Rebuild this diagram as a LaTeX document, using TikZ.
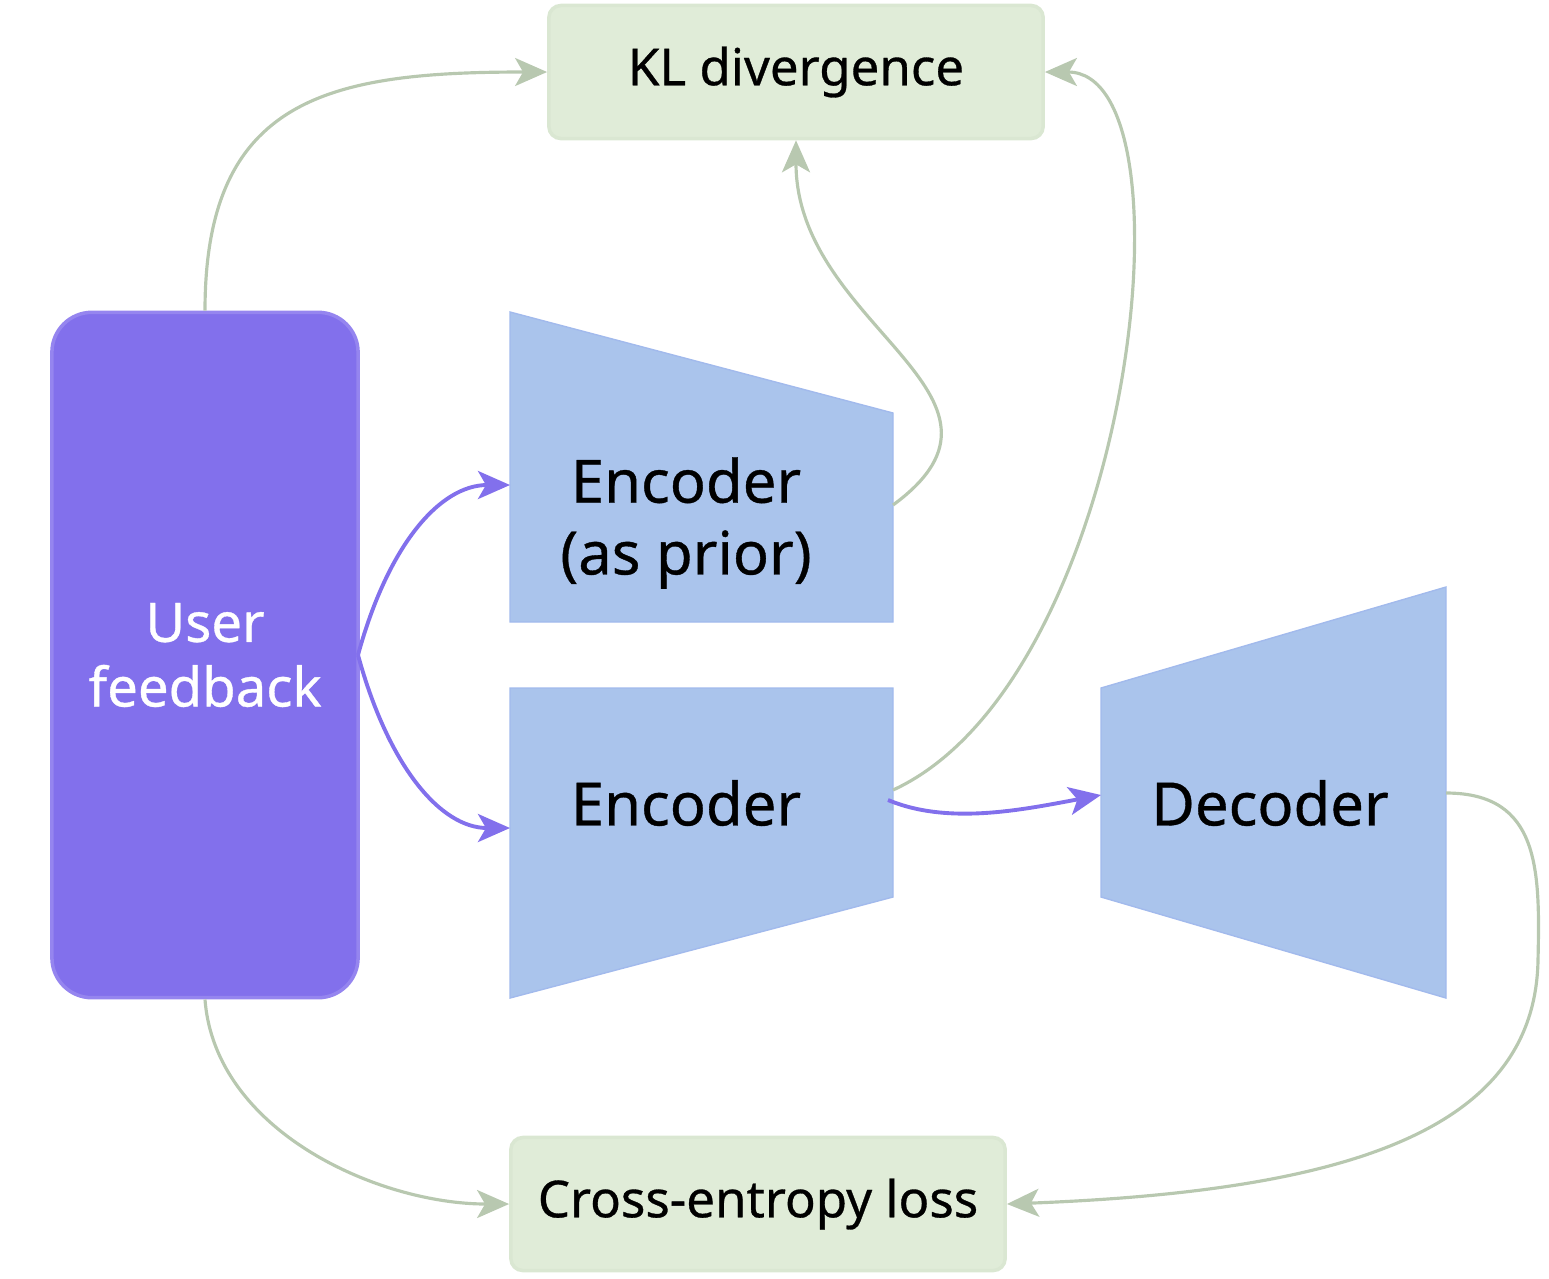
\documentclass[tikz,border=0pt]{standalone}
\usepackage{fontspec}
\setmainfont{Noto Sans}[FakeBold=0.6]
\usetikzlibrary{arrows.meta}

\definecolor{fbpurple}{HTML}{8270EC}
\definecolor{netblue}{HTML}{AAC4EC}
\definecolor{netedge}{HTML}{A2BAEC}
\definecolor{lossfill}{HTML}{E0ECD8}
\definecolor{lossline}{HTML}{B8C8B0}

\begin{document}
\begin{tikzpicture}[
        > = {Stealth[length=3.2mm, width=2.8mm, inset=0.8mm]}, % arrow head style
        x = 0.01cm, y = -0.01cm, % one unit is one pixel of the sketch
        line width = 1pt
    ]

    \tikzstyle{lossbox}=[fill = lossfill, draw = lossfill!85!lossline,
    rounded corners = 0.12cm, minimum width = 4.94cm, minimum height = 1.33cm,
    font = \fontsize{14.5}{17}\selectfont]
    \tikzstyle{userbox}=[fill = fbpurple, draw = fbpurple!85!white,
    rounded corners = 0.4cm, minimum width = 3.06cm, minimum height = 6.85cm,
    text = white, align = center, font = \fontsize{15.5}{18.4}\selectfont]
    \tikzstyle{nettext}=[align = center, font = \fontsize{17}{20.4}\selectfont]
    \tikzstyle{net}=[fill = netblue, draw = netedge, line width = 0.4pt]
    \tikzstyle{lossflow}=[->, draw = lossline, line width = 0.9pt]
    \tikzstyle{dataflow}=[->, draw = fbpurple, line width = 1.1pt]

    \useasboundingbox (0,0) rectangle (1549,1278);

    % the three networks
    \filldraw[net] (510,312) -- (893,413) -- (893,622) -- (510,622) -- cycle;
    \filldraw[net] (510,688) -- (893,688) -- (893,897) -- (510,998) -- cycle;
    \filldraw[net] (1101,688) -- (1446,587) -- (1446,998) -- (1101,897) -- cycle;

    \node[lossbox] (kl) at (796,72) {KL divergence};
    \node[lossbox] (ce) at (758,1204) {Cross-entropy loss};
    \node[userbox] (user) at (205,655) {User\\feedback};
    \node[nettext] (prior) at (686,523) {Encoder\\(as prior)};
    \node[nettext] (enc) at (686,803) {Encoder};
    \node[nettext] (dec) at (1270,803) {Decoder};

    \coordinate (fbout) at (358,655);
    \coordinate (priorin) at (510,485);
    \coordinate (priorout) at (893,505);
    \coordinate (encin) at (510,828);
    \coordinate (encout) at (893,790);
    \coordinate (enclink) at (888,800);
    \coordinate (decin) at (1101,795);
    \coordinate (decout) at (1446,793);

    % user feedback into the encoders
    \draw[dataflow] (fbout) .. controls +(30,-110) and +(-70,0) .. (priorin);
    \draw[dataflow] (fbout) .. controls +(30,110) and +(-70,0) .. (encin);
    \draw[dataflow] (enclink) .. controls +(60,25) and +(-80,15) .. (decin);

    % losses
    \draw[lossflow] (user.north) .. controls +(0,-213) and +(-218,0) .. (kl.west);
    \draw[lossflow] (priorout) .. controls +(150,-110) and +(0,187) .. (kl.south);
    \draw[lossflow] (encout) .. controls +(240,-110) and +(155,0) .. (kl.east);
    \draw[lossflow] (user.south) .. controls +(10,132) and +(-130,0) .. (ce.west);
    \draw[lossflow] (decout) .. controls +(94,0) and +(2,-90) .. (1538,960)
        .. controls +(-3,170) and +(342,-13) .. (ce.east);

\end{tikzpicture}
\end{document}
